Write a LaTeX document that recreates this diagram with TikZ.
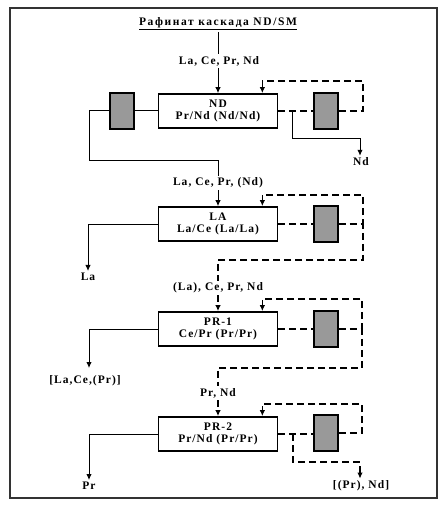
\documentclass[tikz,border=0pt]{standalone}
\usepackage{fontspec}
\setmainfont[LetterSpace=9]{Liberation Serif}
\newfontfamily\titlefont[LetterSpace=14]{Liberation Serif}
\usetikzlibrary{arrows.meta,calc}
\tikzset{
  stage/.style={draw, line width=1.7pt, minimum width=119pt, minimum height=34pt,
    align=center, inner sep=1pt, font=\bfseries\fontsize{11.5}{12}\selectfont},
  cell/.style={draw, line width=1.7pt, fill=gray!80, minimum width=24pt,
    minimum height=36pt, inner sep=0pt},
  lbl/.style={font=\bfseries\fontsize{11.5}{12}\selectfont, inner sep=2pt},
  dsh/.style={line width=1.5pt, dash pattern=on 7pt off 4pt},
  ln/.style={line width=1pt}
}
\begin{document}
\begin{tikzpicture}[x=1pt, y=-1pt, >={Latex[length=6pt,width=5.5pt]}]
\useasboundingbox (0,0) rectangle (441,505);
\draw[line width=1.5pt, black!80] (10,8) rectangle (437,498);

\node[lbl, font=\titlefont\bfseries\fontsize{11.5}{12}\selectfont] (title) at (218,24) {\underline{Рафинат каскада ND/SM}};
\node[lbl] (feed1) at (219,61) {La, Ce, Pr, Nd};
\node[stage] (nd) at (218,111) {ND\\Pr/Nd (Nd/Nd)};
\node[cell] (ndl) at (122,111) {};
\node[cell] (ndr) at (326,111) {};
\node[lbl] (outnd) at (361,162) {Nd};

\node[lbl] (feed2) at (218,183) {La, Ce, Pr, (Nd)};
\node[stage] (la) at (218,224) {LA\\La/Ce (La/La)};
\node[cell] (lar) at (326,224) {};
\node[lbl] (outla) at (88,277) {La};

\node[lbl] (feed3) at (218,288) {(La), Ce, Pr, Nd};
\node[stage] (pr1) at (218,329) {PR-1\\Ce/Pr (Pr/Pr)};
\node[cell] (pr1r) at (326,329) {};
\node[lbl] (outpr1) at (85,381) {[La,Ce,(Pr)]};

\node[lbl] (feed4) at (218,393) {Pr, Nd};
\node[stage] (pr2) at (218,434) {PR-2\\Pr/Nd (Pr/Pr)};
\node[cell] (pr2r) at (326,433) {};
\node[lbl] (outpr) at (89,486) {Pr};
\node[lbl] (outnd2) at (361,486) {[(Pr), Nd]};

\draw[ln] (title.south) -- (title.south |- feed1.north);
\draw[ln,->] (feed1.south -| nd.north) -- (nd.north);
\draw[ln] (nd.west) -- (ndl.east);
\coordinate (ndturn) at (89,160);
\draw[ln] (ndl.west) -| (ndturn) -| (feed2.north);
\draw[dsh] (nd.east) -- (ndr.west);
\coordinate (ndrec) at (363,81);
\draw[dsh,->] (ndr.east) -| (ndrec) -| ($(nd.north east)+(-16,0)$);
\coordinate (ndbr) at (292,111);
\coordinate (ndout) at (360,139);
\draw[ln,->] (ndbr) |- (ndout) -- (ndout |- outnd.north);

\draw[ln,->] (feed2.south) -- (la.north);
\draw[ln,->] (la.west) -| (outla.north);
\draw[dsh] (la.east) -- (lar.west);
\coordinate (larec) at (363,195);
\coordinate (laret) at (363,260);
\draw[dsh,->] (lar.east) -| (larec) -| ($(la.north east)+(-16,0)$);
\draw[dsh] (lar.east) -| (laret) -| (feed3.north);

\draw[dsh,->] (feed3.south) -- (pr1.north);
\coordinate (pr1out) at (89,368);
\draw[ln,->] (pr1.west) -| (pr1out);
\draw[dsh] (pr1.east) -- (pr1r.west);
\coordinate (pr1rec) at (362,299);
\coordinate (pr1ret) at (362,368);
\draw[dsh,->] (pr1r.east) -| (pr1rec) -| ($(pr1.north east)+(-16,0)$);
\draw[dsh] (pr1r.east) -| (pr1ret) -| (feed4.north);

\draw[dsh,->] (feed4.south) -- (pr2.north);
\draw[ln,->] (pr2.west) -| (outpr.north);
\draw[dsh] (pr2.east) -- (pr2r.west |- pr2.east);
\coordinate (pr2rec) at (362,404);
\draw[dsh,->] (pr2r.east) -| (pr2rec) -| ($(pr2.north east)+(-16,0)$);
\coordinate (pr2br) at (293,434);
\coordinate (pr2out) at (360,462);
\draw[dsh,->] (pr2br) |- (pr2out) -- (pr2out |- outnd2.north);
\end{tikzpicture}
\end{document}
